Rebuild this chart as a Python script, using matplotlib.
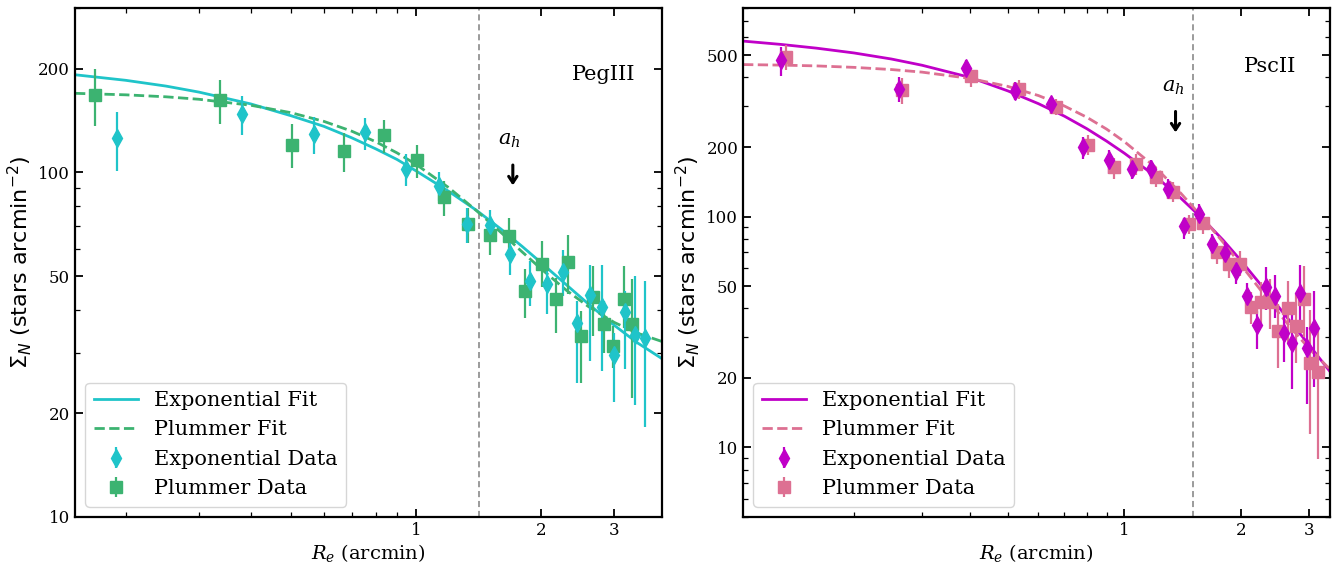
import numpy as np
import matplotlib
matplotlib.use("Agg")
import matplotlib.pyplot as plt
from matplotlib.ticker import LogLocator, NullFormatter

plt.rcParams['font.family'] = ['DejaVu Serif']
plt.rcParams['mathtext.fontset'] = 'dejavuserif'

# ---------------- PegIII (left panel) ----------------
peg_exp_r = [0.191, 0.38, 0.568, 0.755, 0.944, 1.133, 1.323, 1.51, 1.688, 1.877,
             2.065, 2.258, 2.436, 2.624, 2.808, 2.992, 3.176, 3.363, 3.562]
peg_exp_s = [126, 148, 129, 131, 102, 91.5, 70.7, 70.5, 57.8, 48.4,
             47.3, 51.5, 36.6, 44, 40.6, 29.6, 39.4, 33.8, 33]
peg_exp_lo = [101, 128, 113, 116, 91, 82.6, 62.5, 63, 50.4, 40.9,
              38.7, 43.8, 24.5, 28.4, 26.5, 21.5, 26.8, 21.1, 18.2]
peg_exp_hi = [150, 167, 145, 144, 113, 100, 78.8, 77.7, 66.8, 55.2,
              54.1, 59.7, 42.3, 53.8, 54, 34.3, 45.2, 50, 48.4]

peg_plu_r = [0.169, 0.337, 0.504, 0.671, 0.839, 1.006, 1.17, 1.337, 1.509, 1.67,
             1.83, 2.009, 2.168, 2.32, 2.5, 2.66, 2.83, 2.98, 3.16, 3.31]
peg_plu_s = [168, 162.5, 120, 115.6, 128, 108.6, 85, 70.7, 65.6, 65.3,
             45.2, 54.3, 43, 55, 33.6, 43.6, 36.2, 31.3, 42.8, 36.4]
peg_plu_lo = [136, 138, 103, 100, 114, 96, 74.8, 62.5, 57.5, 57.5,
              37.8, 46.5, 34.3, 44.3, 24.5, 33.5, 30, 27.1, 35.4, 22.2]
peg_plu_hi = [199, 186, 138, 130, 142, 120, 94.6, 78.8, 74.6, 73.5,
              52.3, 63.4, 49.4, 66, 39.6, 53.5, 42.4, 35.8, 53.5, 49]

peg_fit_r = [0.151, 0.2, 0.25, 0.3, 0.4, 0.5, 0.6, 0.7, 0.8, 0.9, 1.0, 1.2, 1.4,
             1.6, 1.8, 2.0, 2.3, 2.6, 3.0, 3.4, 3.91]
peg_fit_exp = [192, 185, 178, 171, 158, 146, 136, 126, 117, 109, 101, 88, 77.5,
               68.5, 61, 54.7, 47.2, 41.5, 36, 32.1, 28.8]
peg_fit_plu = [169.6, 167.9, 165.7, 163, 156.6, 149, 140.6, 131.7, 122.7, 113.9, 105.5,
               90.2, 77.3, 67, 58.8, 52.5, 45.5, 40.8, 36.7, 34.2, 32.3]
peg_ah = 1.42

# ---------------- PscII (right panel) ----------------
psc_exp_r = [0.13, 0.261, 0.39, 0.522, 0.648, 0.78, 0.914, 1.046, 1.171, 1.30,
             1.43, 1.56, 1.68, 1.82, 1.94, 2.07, 2.2, 2.32, 2.45, 2.58,
             2.71, 2.84, 2.97, 3.09]
psc_exp_s = [476, 355, 438, 350, 308, 200, 175, 161, 161, 132,
             90.7, 102.7, 76.4, 69.2, 58, 45.4, 34, 49.4, 45.4, 31.2,
             28.2, 46.7, 27, 33]
psc_exp_lo = [405, 313, 400, 319, 279, 178, 153, 146, 146, 119,
              79.8, 91, 68.7, 61.6, 50.8, 39.5, 26.8, 39.5, 36.3, 23.5,
              17.9, 35.7, 15.5, 18.3]
psc_exp_hi = [543, 400, 475, 383, 330, 221, 194, 175, 175, 146,
              99, 113.5, 84, 77.3, 65.3, 51.6, 38.8, 60.5, 56, 40.9,
              37.6, 61.5, 33.4, 47.5]

psc_plu_r = [0.134, 0.267, 0.401, 0.534, 0.666, 0.807, 0.939, 1.073, 1.206, 1.335,
             1.47, 1.6, 1.74, 1.865, 1.99, 2.13, 2.25, 2.38, 2.5, 2.64,
             2.77, 2.91, 3.02, 3.17]
psc_plu_s = [492, 352, 405, 355, 298, 204, 164, 169, 148.6, 128,
             92.9, 93.7, 70, 62.5, 62.5, 40.5, 42.5, 42.5, 32, 40,
             33.5, 44, 23.1, 21.2]
psc_plu_lo = [431, 308, 362, 324, 274, 185, 146, 151, 134, 115.6,
              84, 84, 62, 54.3, 55.2, 34.3, 33, 32.5, 22, 28.2,
              23.1, 30.2, 11.4, 8.9]
psc_plu_hi = [552, 396, 438, 389, 324, 226, 179, 187, 164, 141,
              102, 104, 77, 69.8, 71, 47, 52, 53.5, 41.6, 52.6,
              46, 61, 39.5, 32.9]

psc_fit_r = [0.1035, 0.13, 0.16, 0.2, 0.25, 0.3, 0.4, 0.5, 0.6, 0.7, 0.8, 0.9, 1.0,
             1.2, 1.4, 1.6, 1.8, 2.0, 2.3, 2.6, 3.0, 3.4]
psc_fit_exp = [575, 556, 536, 511, 481, 452, 400, 350, 308, 272, 240, 212, 188,
               150, 120, 97, 79, 64.5, 48.5, 37.5, 27.8, 21.3]
psc_fit_plu = [455, 452.5, 449, 442.5, 433, 422, 396, 366, 334, 301, 269, 239, 211,
               164, 126, 98, 77.3, 61.8, 45.8, 35.4, 26.8, 21.8]
psc_ah = 1.50

legend_labels = ["Exponential Fit", "Plummer Fit", "Exponential Data", "Plummer Data"]


def panel(ax, fit_r, fit_e, fit_p, er, es, elo, ehi, pr, ps, plo, phi,
          c_exp, c_plu, ah, xlim, ylim, yticks, name, name_pos,
          arrow_x, arrow_y, ah_text_pos):
    ax.set_xscale('log')
    ax.set_yscale('log')
    ax.plot(fit_r, fit_e, color=c_exp, lw=2.0, ls='-', label=legend_labels[0], zorder=2)
    ax.plot(fit_r, fit_p, color=c_plu, lw=2.0, ls='--', label=legend_labels[1], zorder=2)
    es_a = np.array(es); ps_a = np.array(ps)
    ax.errorbar(er, es, yerr=[es_a - np.array(elo), np.array(ehi) - es_a],
                fmt='d', color=c_exp, ms=9, elinewidth=1.6, capsize=0,
                label=legend_labels[2], zorder=2.6)
    ax.errorbar(pr, ps, yerr=[ps_a - np.array(plo), np.array(phi) - ps_a],
                fmt='s', color=c_plu, ms=8, elinewidth=1.6, capsize=0,
                label=legend_labels[3], zorder=2.5)
    ax.axvline(ah, color='0.5', ls=(0, (4, 2.5)), lw=1.1, zorder=1)
    ax.annotate('', xy=(arrow_x, arrow_y[1]), xytext=(arrow_x, arrow_y[0]),
                arrowprops=dict(arrowstyle='->, head_width=0.3, head_length=0.45',
                                color='black', lw=2.2))
    ax.text(ah_text_pos[0], ah_text_pos[1], r'$a_h$', fontsize=15,
            ha='center', va='center')
    ax.text(name_pos[0], name_pos[1], name, fontsize=15, ha='center', va='center',
            transform=ax.transAxes)
    ax.set_xlim(*xlim)
    ax.set_ylim(*ylim)
    ax.set_xticks([1, 2, 3])
    ax.set_xticklabels(['1', '2', '3'])
    ax.xaxis.set_minor_locator(LogLocator(base=10, subs=np.arange(2, 10)))
    ax.xaxis.set_minor_formatter(NullFormatter())
    ax.set_yticks(yticks)
    ax.set_yticklabels([str(t) for t in yticks])
    ax.yaxis.set_minor_locator(LogLocator(base=10, subs=np.arange(1, 10)))
    ax.yaxis.set_minor_formatter(NullFormatter())
    ax.tick_params(which='both', direction='in', top=True, right=True, labelsize=12)
    ax.tick_params(which='major', length=6, width=1.3)
    ax.tick_params(which='minor', length=3.5, width=0.9)
    for s in ax.spines.values():
        s.set_linewidth(1.6)
    ax.set_xlabel(r'$R_e$ (arcmin)', fontsize=14, labelpad=2)
    ax.set_ylabel(r'$\Sigma_N$ (stars arcmin$^{-2}$)', fontsize=16, labelpad=3,
                  family='DejaVu Sans', math_fontfamily='dejavusans')
    ax.legend(loc='lower left', fontsize=15, borderaxespad=0.5, handlelength=2.1)


fig = plt.figure(figsize=(13.35, 5.65), dpi=100)
axL = fig.add_axes([0.0562, 0.085, 0.4397, 0.9009])
axR = fig.add_axes([0.5566, 0.085, 0.4397, 0.9009])

panel(axL, peg_fit_r, peg_fit_exp, peg_fit_plu,
      peg_exp_r, peg_exp_s, peg_exp_lo, peg_exp_hi,
      peg_plu_r, peg_plu_s, peg_plu_lo, peg_plu_hi,
      '#1fc4c9', '#3cb371', peg_ah, (0.151, 3.91), (10, 300),
      [10, 20, 50, 100, 200], 'PegIII', (0.90, 0.87),
      1.71, (107, 90), (1.68, 124))

panel(axR, psc_fit_r, psc_fit_exp, psc_fit_plu,
      psc_exp_r, psc_exp_s, psc_exp_lo, psc_exp_hi,
      psc_plu_r, psc_plu_s, psc_plu_lo, psc_plu_hi,
      '#c000c8', '#dd7092', psc_ah, (0.1035, 3.4), (5, 800),
      [10, 20, 50, 100, 200, 500], 'PscII', (0.898, 0.885),
      1.356, (293, 225), (1.335, 362))

fig.savefig('out.png', dpi=100)
